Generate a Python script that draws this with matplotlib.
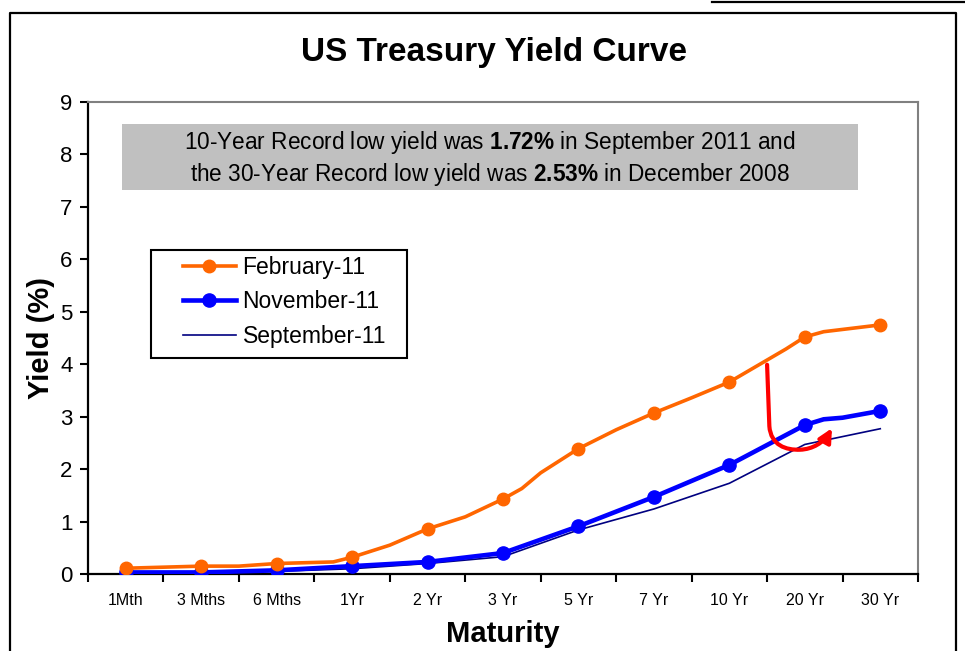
import numpy as np
import matplotlib
matplotlib.use("Agg")
import matplotlib.pyplot as plt
from matplotlib.lines import Line2D
from matplotlib.patches import Rectangle, FancyArrowPatch
from matplotlib.path import Path

plt.rcParams['font.family'] = ['Liberation Sans', 'DejaVu Sans']
plt.rcParams['mathtext.fontset'] = 'custom'
plt.rcParams['mathtext.rm'] = 'Liberation Sans'
plt.rcParams['mathtext.bf'] = 'Liberation Sans:bold'

# categories on the x axis
maturities = ["1Mth", "3 Mths", "6 Mths", "1Yr", "2 Yr", "3 Yr",
              "5 Yr", "7 Yr", "10 Yr", "20 Yr", "30 Yr"]

# February-11 (line has a few extra points between categories)
feb_x = [0, 1, 1.5, 2, 2.75, 3, 3.5, 4, 4.5, 5, 5.25, 5.5, 6, 6.5, 7, 7.5, 8, 8.75, 9, 9.25, 10]
feb_y = [0.11, 0.15, 0.15, 0.20, 0.23, 0.32, 0.55, 0.86, 1.09, 1.43, 1.63, 1.93, 2.39,
         2.75, 3.07, 3.36, 3.66, 4.29, 4.52, 4.62, 4.75]

# November-11
nov_x = [0, 1, 2, 3, 4, 5, 6, 7, 8, 9, 9.25, 9.5, 10]
nov_y = [0.03, 0.03, 0.07, 0.15, 0.23, 0.40, 0.91, 1.47, 2.08, 2.84, 2.95, 2.98, 3.11]

# September-11
sep_y = [0.02, 0.02, 0.05, 0.10, 0.20, 0.33, 0.84, 1.24, 1.73, 2.47, 2.77]

W, H = 965, 651
fig = plt.figure(figsize=(W / 100, H / 100), dpi=100)


def fx(px):
    return px / W


def fy(py):
    return 1 - py / H


ax = fig.add_axes([fx(88), fy(574), fx(918) - fx(88), fy(102) - fy(574)])

# outer chart border
fig.add_artist(Line2D([fx(10), fx(10), fx(956), fx(956)], [fy(651), fy(13), fy(13), fy(651)],
                      color="black", lw=1.6, transform=fig.transFigure))
fig.add_artist(Line2D([fx(712), fx(965)], [fy(2), fy(2)], color="black", lw=1.6,
                      transform=fig.transFigure))

sx = np.arange(len(maturities))
ax.plot(sx, sep_y, color="#000080", lw=1.2, zorder=3)

nov_x = np.array(nov_x)
nov_y = np.array(nov_y)
m = np.mod(nov_x, 1) == 0
ax.plot(nov_x, nov_y, color="#0000FF", lw=3.3, zorder=4, solid_capstyle="round")
ax.plot(nov_x[m], nov_y[m], "o", color="#0000FF", ms=9.5, zorder=4)

feb_x = np.array(feb_x)
feb_y = np.array(feb_y)
m = np.mod(feb_x, 1) == 0
ax.plot(feb_x, feb_y, color="#FF6600", lw=2.6, zorder=4, solid_capstyle="round")
ax.plot(feb_x[m], feb_y[m], "o", color="#FF6600", ms=9, zorder=4)

# axes styling
ax.set_xlim(-0.5, len(maturities) - 0.5)
ax.set_ylim(0, 9)
ax.set_yticks(range(10))
ax.set_xticks(sx)
ax.set_xticklabels(maturities, fontsize=11.5)
ax.set_xticks(np.arange(-0.5, len(maturities)), minor=True)
ax.tick_params(axis="x", which="major", length=0, pad=14)
ax.tick_params(axis="x", which="minor", length=6, width=1.5, direction="out")
ax.tick_params(axis="y", length=6, width=1.5, direction="out", labelsize=16, pad=5)
for s in ["top", "right"]:
    ax.spines[s].set_color("#808080")
    ax.spines[s].set_linewidth(1.5)
for s in ["left", "bottom"]:
    ax.spines[s].set_linewidth(1.6)

ax.set_xlabel("Maturity", fontsize=21, fontweight="bold", labelpad=8)
ax.set_ylabel("Yield (%)", fontsize=21, fontweight="bold", labelpad=4)
fig.text(fx(494), fy(52), "US Treasury Yield Curve", ha="center", va="center",
         fontsize=24, fontweight="bold")

# grey note box
fig.add_artist(Rectangle((fx(122), fy(190)), fx(858) - fx(122), fy(124) - fy(190),
                         facecolor="#C0C0C0", edgecolor="none", transform=fig.transFigure))
fig.text(fx(490), fy(142), r"10-Year Record low yield was $\mathbf{1.72\%}$ in September 2011 and",
         ha="center", va="center", fontsize=16.3)
fig.text(fx(490), fy(175), r"the 30-Year Record low yield was $\mathbf{2.53\%}$ in December 2008",
         ha="center", va="center", fontsize=16.3)

# legend: frame drawn separately
fig.add_artist(Rectangle((fx(151), fy(358)), fx(407) - fx(151), fy(250) - fy(358),
                         facecolor="white", edgecolor="black", lw=1.5,
                         transform=fig.transFigure, zorder=5))
handles = [
    Line2D([], [], color="#FF6600", lw=2.6, marker="o", ms=9),
    Line2D([], [], color="#0000FF", lw=3.3, marker="o", ms=9.5),
    Line2D([], [], color="#000080", lw=1.2),
]
leg = fig.legend(handles, ["February-11", "November-11", "September-11"],
                 loc="upper left", bbox_to_anchor=(fx(183), fy(256)),
                 borderaxespad=0, fontsize=16.5, handlelength=2.3, handletextpad=0.3,
                 borderpad=0, labelspacing=0.5, frameon=False)
leg.set_zorder(6)

# red arrow
verts = [(8.50, 3.99), (8.53, 2.82),
         (8.55, 2.45), (8.75, 2.36), (8.94, 2.37),
         (9.10, 2.38), (9.25, 2.50), (9.36, 2.78)]
codes = [Path.MOVETO, Path.LINETO,
         Path.CURVE4, Path.CURVE4, Path.CURVE4,
         Path.CURVE4, Path.CURVE4, Path.CURVE4]
arrow = FancyArrowPatch(path=Path(verts, codes), arrowstyle="-|>", mutation_scale=20,
                        color="#FF0000", lw=3, zorder=6)
ax.add_patch(arrow)

fig.savefig("out.png", dpi=100)
